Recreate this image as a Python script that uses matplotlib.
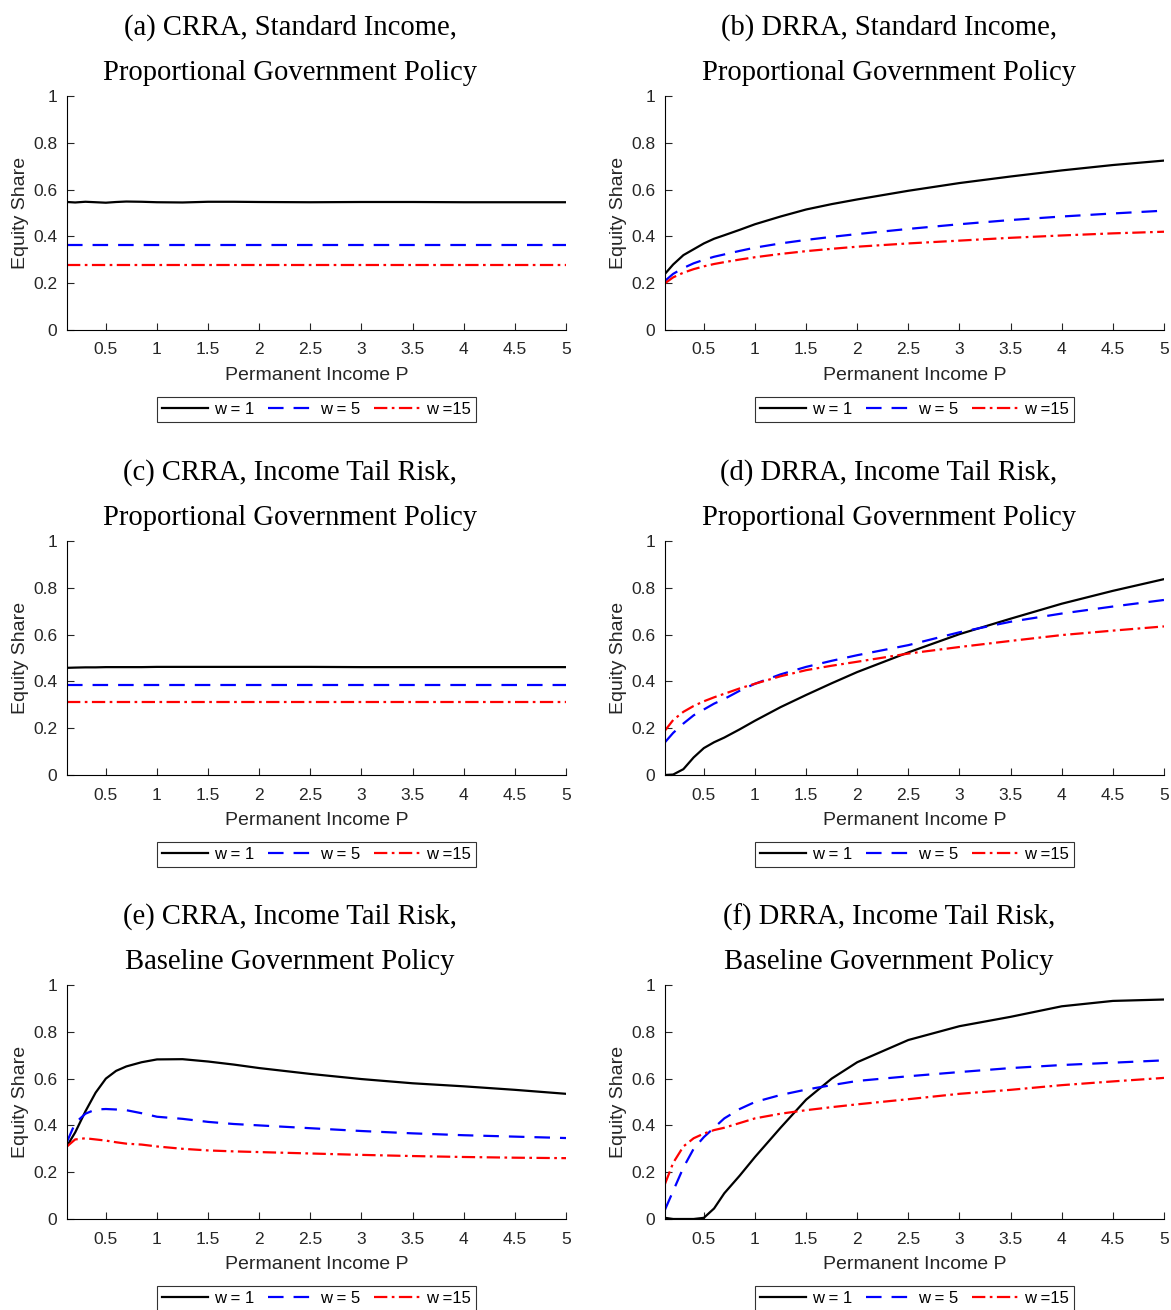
import matplotlib
matplotlib.use("Agg")
import matplotlib.pyplot as plt
import numpy as np

# permanent income grid (shared by all panels)
P = [0.12, 0.2, 0.3, 0.4, 0.5, 0.6, 0.7, 0.85, 1.0, 1.25, 1.5, 1.75, 2.0, 2.5, 3.0, 3.5, 4.0, 4.5, 5.0]

# (a) CRRA, standard income, proportional policy
a_w1 = [0.547, 0.545, 0.548, 0.546, 0.544, 0.547, 0.549, 0.548, 0.546, 0.545, 0.548, 0.548, 0.547, 0.546, 0.547, 0.547, 0.546, 0.546, 0.546]
a_w5 = [0.362] * 19
a_w15 = [0.278] * 19

# (b) DRRA, standard income, proportional policy
b_w1 = [0.24, 0.28, 0.32, 0.345, 0.37, 0.39, 0.405, 0.428, 0.452, 0.485, 0.515, 0.538, 0.558, 0.595, 0.628, 0.656, 0.682, 0.705, 0.724]
b_w5 = [0.21, 0.24, 0.265, 0.285, 0.30, 0.313, 0.323, 0.338, 0.352, 0.37, 0.385, 0.398, 0.41, 0.432, 0.452, 0.47, 0.485, 0.498, 0.51]
b_w15 = [0.20, 0.225, 0.245, 0.26, 0.272, 0.282, 0.29, 0.301, 0.311, 0.325, 0.337, 0.347, 0.356, 0.37, 0.382, 0.394, 0.404, 0.413, 0.42]

# (c) CRRA, income tail risk, proportional policy
c_w1 = [0.458, 0.459, 0.46, 0.46, 0.461, 0.461, 0.461, 0.461, 0.462, 0.462, 0.462, 0.462, 0.462, 0.462, 0.461, 0.461, 0.461, 0.461, 0.461]
c_w5 = [0.383] * 19
c_w15 = [0.312] * 19

# (d) DRRA, income tail risk, proportional policy
d_w1 = [0.0, 0.002, 0.025, 0.075, 0.115, 0.14, 0.16, 0.195, 0.232, 0.29, 0.342, 0.392, 0.44, 0.524, 0.602, 0.668, 0.732, 0.787, 0.837]
d_w5 = [0.14, 0.18, 0.22, 0.255, 0.28, 0.305, 0.325, 0.36, 0.39, 0.43, 0.462, 0.488, 0.512, 0.555, 0.61, 0.655, 0.69, 0.72, 0.748]
d_w15 = [0.19, 0.235, 0.27, 0.295, 0.315, 0.332, 0.347, 0.37, 0.39, 0.422, 0.448, 0.467, 0.484, 0.519, 0.547, 0.573, 0.598, 0.617, 0.635]

# (e) CRRA, income tail risk, baseline policy
e_w1 = [0.312, 0.37, 0.46, 0.54, 0.60, 0.633, 0.652, 0.67, 0.682, 0.683, 0.673, 0.66, 0.645, 0.62, 0.598, 0.58, 0.567, 0.552, 0.535]
e_w5 = [0.33, 0.41, 0.45, 0.468, 0.47, 0.468, 0.465, 0.452, 0.437, 0.428, 0.415, 0.406, 0.40, 0.388, 0.376, 0.366, 0.358, 0.352, 0.346]
e_w15 = [0.31, 0.34, 0.345, 0.34, 0.335, 0.328, 0.322, 0.318, 0.31, 0.30, 0.293, 0.289, 0.286, 0.28, 0.274, 0.269, 0.265, 0.262, 0.26]

# (f) DRRA, income tail risk, baseline policy
f_w1 = [0.005, 0.0, 0.0, 0.0, 0.005, 0.045, 0.11, 0.185, 0.265, 0.39, 0.51, 0.6, 0.67, 0.765, 0.824, 0.864, 0.909, 0.932, 0.938]
f_w5 = [0.04, 0.12, 0.22, 0.30, 0.35, 0.39, 0.43, 0.47, 0.50, 0.53, 0.553, 0.572, 0.59, 0.61, 0.628, 0.645, 0.658, 0.668, 0.678]
f_w15 = [0.15, 0.24, 0.31, 0.345, 0.365, 0.38, 0.39, 0.41, 0.43, 0.45, 0.465, 0.478, 0.49, 0.512, 0.535, 0.552, 0.572, 0.588, 0.603]

titles = [
    ("(a) CRRA, Standard Income,", "Proportional Government Policy"),
    ("(b) DRRA, Standard Income,", "Proportional Government Policy"),
    ("(c) CRRA, Income Tail Risk,", "Proportional Government Policy"),
    ("(d) DRRA, Income Tail Risk,", "Proportional Government Policy"),
    ("(e) CRRA, Income Tail Risk,", "Baseline Government Policy"),
    ("(f) DRRA, Income Tail Risk,", "Baseline Government Policy"),
]
series = [
    (a_w1, a_w5, a_w15), (b_w1, b_w5, b_w15),
    (c_w1, c_w5, c_w15), (d_w1, d_w5, d_w15),
    (e_w1, e_w5, e_w15), (f_w1, f_w5, f_w15),
]
labels = ["w = 1", "w = 5", "w =15"]

plt.rcParams["font.family"] = ["Liberation Sans", "DejaVu Sans"]

W, H = 1171, 1310
fig = plt.figure(figsize=(W / 100, H / 100), dpi=100)

lefts = [67, 665]
tops = [96, 541, 985]
ax_w, ax_h = 499, 234
txt = "#262626"

for i in range(6):
    row, col = i // 2, i % 2
    l = lefts[col]
    t = tops[row]
    ax = fig.add_axes([l / W, 1 - (t + ax_h) / H, ax_w / W, ax_h / H])
    w1, w5, w15 = series[i]
    ax.plot(P, w1, color="k", lw=1.6, label=labels[0])
    ax.plot(P, w5, color="b", lw=1.6, ls=(0, (7, 4.5)), label=labels[1])
    ax.plot(P, w15, color="r", lw=1.6, ls=(0, (6, 2, 1.2, 2)), label=labels[2])
    ax.set_xlim(0.12, 5)
    ax.set_ylim(0, 1)
    ax.set_xticks(np.arange(0.5, 5.01, 0.5))
    ax.set_xticklabels(["0.5", "1", "1.5", "2", "2.5", "3", "3.5", "4", "4.5", "5"])
    ax.set_yticks(np.arange(0, 1.01, 0.2))
    ax.set_yticklabels(["0", "0.2", "0.4", "0.6", "0.8", "1"])
    ax.spines["top"].set_visible(False)
    ax.spines["right"].set_visible(False)
    ax.tick_params(direction="in", length=5, labelsize=12.5, colors=txt)
    ax.tick_params(axis="x", pad=9)
    ax.tick_params(axis="y", pad=7)
    ax.set_xlabel("Permanent Income P", fontsize=14, color=txt, labelpad=7)
    ax.set_ylabel("Equity Share", fontsize=14, color=txt, labelpad=3)
    leg = ax.legend(loc="center", bbox_to_anchor=(0.5, -0.338), ncol=3,
                    fontsize=12, frameon=True, fancybox=False, handlelength=2.8,
                    columnspacing=0.8, handletextpad=0.35, borderpad=0.3,
                    borderaxespad=0)
    leg.get_frame().set_edgecolor("k")
    leg.get_frame().set_linewidth(0.8)

    tx = (290 if col == 0 else 889) / W
    fig.text(tx, 1 - (t - 68) / H, titles[i][0], ha="center", va="center",
             fontsize=20.6, family="Liberation Serif")
    fig.text(tx, 1 - (t - 23) / H, titles[i][1], ha="center", va="center",
             fontsize=20.6, family="Liberation Serif")

fig.savefig("out.png", dpi=100)
